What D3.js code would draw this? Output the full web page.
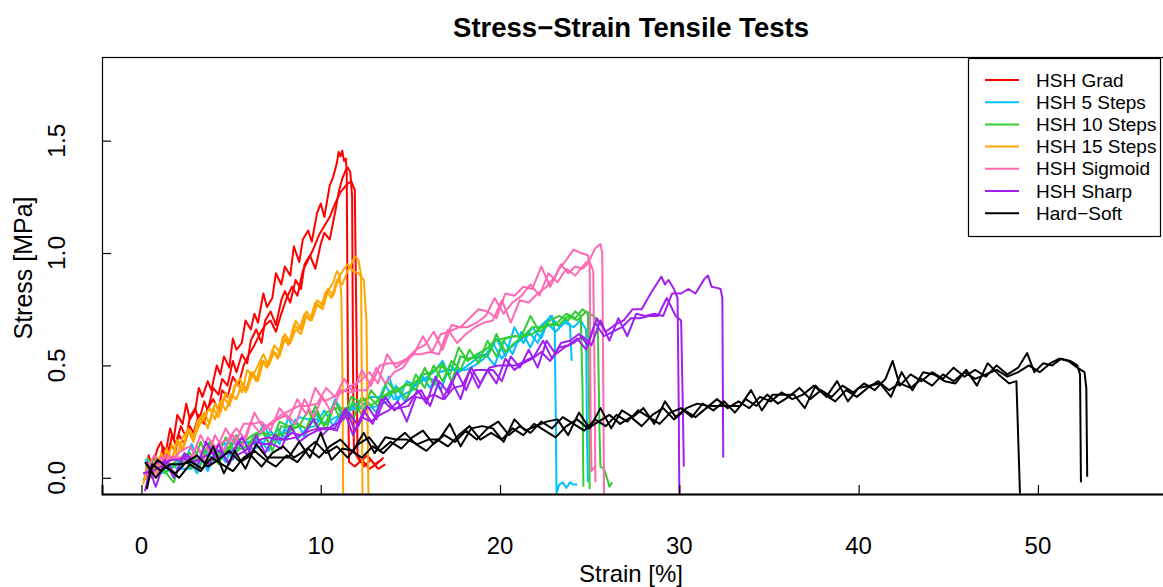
<!DOCTYPE html>
<html>
<head>
<meta charset="utf-8">
<script src="https://cdn.jsdelivr.net/npm/d3@7"></script>
<style>
  body { margin: 0; background: #fff; }
  svg { font-family: "Liberation Sans", Arial, Helvetica, sans-serif; }
</style>
</head>
<body>
<svg id="chart" width="1163" height="587"></svg>
<script>
// ---- data: [strain %, stress MPa], three specimens per material ----
const seriesNames = ["HSH Grad", "HSH 5 Steps", "HSH 10 Steps", "HSH 15 Steps", "HSH Sigmoid", "HSH Sharp", "Hard\u2212Soft"];
const seriesColors = ["#FF0000", "#00BFFF", "#32CD32", "#FFA500", "#FF69B4", "#A020F0", "#000000"];
const xTicks = [0, 10, 20, 30, 40, 50];
const yTicks = [0, 0.5, 1.0, 1.5];

const hshGrad = [
  [[0.2,0.00],[0.4,0.10],[0.6,0.05],[0.9,0.13],[1.1,0.16],[1.3,0.09],[1.6,0.22],[1.8,0.17],[2.0,0.28],[2.3,0.24],[2.5,0.33],[2.7,0.26],[3.0,0.30],[3.2,0.40],[3.4,0.36],[3.7,0.43],[3.9,0.39],[4.2,0.50],[4.4,0.46],[4.6,0.54],[4.9,0.49],[5.1,0.62],[5.3,0.57],[5.6,0.60],[5.8,0.70],[6.1,0.66],[6.3,0.73],[6.5,0.69],[6.8,0.82],[7.0,0.76],[7.3,0.80],[7.5,0.91],[7.8,0.86],[8.0,0.94],[8.3,0.90],[8.5,1.03],[8.8,0.96],[9.0,1.06],[9.3,1.10],[9.5,1.05],[9.8,1.18],[10.0,1.22],[10.2,1.16],[10.5,1.30],[10.7,1.34],[10.9,1.40],[11.0,1.45],[11.1,1.43],[11.2,1.455],[11.3,1.41],[11.4,1.42],[11.45,1.36],[11.52,0.40],[11.58,0.07],[11.9,0.05],[12.3,0.08],[12.7,0.04],[13.1,0.06],[13.5,0.09]],
  [[0.3,0.04],[0.5,0.01],[0.7,0.09],[1.0,0.06],[1.2,0.14],[1.5,0.10],[1.7,0.19],[1.9,0.15],[2.2,0.23],[2.5,0.18],[2.7,0.27],[3.0,0.31],[3.2,0.25],[3.5,0.34],[3.7,0.30],[4.0,0.40],[4.3,0.37],[4.5,0.44],[4.8,0.41],[5.1,0.52],[5.3,0.47],[5.6,0.55],[5.9,0.51],[6.1,0.61],[6.4,0.66],[6.7,0.60],[6.9,0.70],[7.2,0.74],[7.5,0.68],[7.8,0.79],[8.0,0.83],[8.3,0.78],[8.6,0.88],[8.9,0.84],[9.1,0.95],[9.4,0.99],[9.7,0.93],[10.0,1.04],[10.2,1.09],[10.5,1.06],[10.8,1.18],[11.0,1.27],[11.2,1.33],[11.4,1.37],[11.5,1.38],[11.65,1.36],[11.75,1.25],[11.8,0.50],[11.85,0.12],[12.2,0.07],[12.6,0.10],[13.0,0.06],[13.4,0.08]],
  [[0.3,0.02],[0.5,0.07],[0.8,0.03],[1.1,0.10],[1.3,0.07],[1.6,0.15],[1.9,0.12],[2.1,0.19],[2.4,0.15],[2.7,0.23],[2.9,0.20],[3.2,0.28],[3.5,0.24],[3.7,0.31],[4.0,0.35],[4.3,0.30],[4.5,0.39],[4.8,0.36],[5.1,0.45],[5.4,0.41],[5.7,0.50],[6.0,0.55],[6.3,0.59],[6.6,0.64],[6.9,0.68],[7.2,0.70],[7.5,0.65],[7.8,0.73],[8.1,0.80],[8.4,0.85],[8.7,0.81],[9.0,0.92],[9.3,0.97],[9.6,1.02],[9.9,1.08],[10.2,1.12],[10.5,1.16],[10.8,1.22],[11.1,1.27],[11.4,1.30],[11.7,1.32],[11.9,1.28],[12.0,0.60],[12.05,0.10],[12.4,0.05],[12.8,0.08],[13.2,0.04],[13.6,0.06]]
];

const hsh5Steps = [
  [[0.2,0.08],[0.7,0.06],[1.2,0.06],[1.7,0.05],[2.2,0.04],[2.7,0.04],[3.2,0.13],[3.7,0.03],[4.2,0.13],[4.7,0.07],[5.2,0.17],[5.7,0.13],[6.2,0.13],[6.7,0.14],[7.2,0.21],[7.7,0.15],[8.2,0.27],[8.7,0.17],[9.2,0.22],[9.7,0.23],[10.2,0.30],[10.7,0.23],[11.2,0.30],[11.7,0.31],[12.2,0.31],[12.7,0.31],[13.2,0.32],[13.7,0.34],[14.2,0.41],[14.7,0.34],[15.2,0.41],[15.7,0.44],[16.2,0.44],[16.7,0.39],[17.2,0.50],[17.7,0.47],[18.2,0.50],[18.7,0.53],[19.2,0.55],[19.7,0.50],[20.2,0.61],[20.7,0.55],[21.2,0.65],[21.7,0.58],[22.2,0.67],[22.6,0.70],[22.9,0.72],[23.05,0.65],[23.12,0.20],[23.15,-0.07],[23.3,-0.03],[23.5,-0.02],[23.7,-0.045],[23.9,-0.02],[24.1,-0.03],[24.3,-0.03]],
  [[0.3,0.04],[0.8,0.05],[1.3,0.07],[1.8,0.09],[2.3,0.05],[2.8,0.15],[3.3,0.06],[3.8,0.15],[4.3,0.07],[4.8,0.16],[5.3,0.15],[5.8,0.16],[6.3,0.15],[6.8,0.24],[7.3,0.16],[7.8,0.20],[8.3,0.22],[8.8,0.27],[9.3,0.26],[9.8,0.26],[10.3,0.24],[10.8,0.35],[11.3,0.28],[11.8,0.32],[12.3,0.34],[12.8,0.36],[13.3,0.36],[13.8,0.45],[14.3,0.34],[14.8,0.43],[15.3,0.41],[15.8,0.44],[16.3,0.47],[16.8,0.52],[17.3,0.43],[17.8,0.54],[18.3,0.53],[18.8,0.55],[19.3,0.54],[19.8,0.62],[20.3,0.54],[20.8,0.67],[21.3,0.60],[21.8,0.67],[22.3,0.62],[22.8,0.72],[23.3,0.67],[23.7,0.70],[23.9,0.68],[24.0,0.52]],
  [[0.1,-0.01],[0.6,0.08],[1.1,0.02],[1.6,0.04],[2.1,0.07],[2.6,0.09],[3.1,0.02],[3.6,0.12],[4.1,0.07],[4.6,0.16],[5.1,0.08],[5.6,0.16],[6.1,0.16],[6.6,0.17],[7.1,0.12],[7.6,0.22],[8.1,0.17],[8.6,0.26],[9.1,0.18],[9.6,0.30],[10.1,0.24],[10.6,0.26],[11.1,0.28],[11.6,0.30],[12.1,0.31],[12.6,0.34],[13.1,0.29],[13.6,0.41],[14.1,0.35],[14.6,0.37],[15.1,0.39],[15.6,0.46],[16.1,0.40],[16.6,0.47],[17.1,0.48],[17.6,0.48],[18.1,0.48],[18.6,0.50],[19.1,0.53],[19.6,0.60],[20.1,0.53],[20.6,0.58],[21.1,0.61],[21.6,0.65],[22.1,0.60],[22.6,0.69],[23.1,0.65],[23.6,0.69],[24.1,0.67],[24.5,0.70],[24.8,0.66],[24.85,0.20],[24.9,-0.02]]
];

const hsh10Steps = [
  [[0.3,0.09],[0.8,0.04],[1.3,0.03],[1.8,-0.02],[2.3,0.10],[2.8,0.04],[3.3,0.16],[3.8,0.06],[4.3,0.11],[4.8,0.12],[5.3,0.19],[5.8,0.12],[6.3,0.19],[6.8,0.20],[7.3,0.19],[7.8,0.19],[8.3,0.21],[8.8,0.23],[9.3,0.30],[9.8,0.22],[10.3,0.29],[10.8,0.31],[11.3,0.31],[11.8,0.26],[12.3,0.36],[12.8,0.32],[13.3,0.35],[13.8,0.38],[14.3,0.40],[14.8,0.35],[15.3,0.46],[15.8,0.40],[16.3,0.50],[16.8,0.43],[17.3,0.52],[17.8,0.48],[18.3,0.57],[18.8,0.51],[19.3,0.61],[19.8,0.54],[20.3,0.62],[20.8,0.63],[21.3,0.63],[21.8,0.64],[22.3,0.67],[22.8,0.70],[23.3,0.72],[23.8,0.70],[24.2,0.74],[24.5,0.72],[24.6,0.40],[24.65,-0.04]],
  [[0.2,0.05],[0.7,0.06],[1.2,0.06],[1.7,0.06],[2.2,0.09],[2.7,0.11],[3.2,0.04],[3.7,0.14],[4.2,0.09],[4.7,0.18],[5.2,0.12],[5.7,0.16],[6.2,0.19],[6.7,0.21],[7.2,0.14],[7.7,0.25],[8.2,0.23],[8.7,0.24],[9.2,0.22],[9.7,0.32],[10.2,0.23],[10.7,0.32],[11.2,0.25],[11.7,0.36],[12.2,0.34],[12.7,0.36],[13.2,0.32],[13.7,0.43],[14.2,0.38],[14.7,0.41],[15.2,0.42],[15.7,0.46],[16.2,0.47],[16.7,0.50],[17.2,0.46],[17.7,0.58],[18.2,0.52],[18.7,0.55],[19.2,0.57],[19.7,0.61],[20.2,0.62],[20.7,0.63],[21.2,0.63],[21.7,0.72],[22.2,0.65],[22.7,0.68],[23.2,0.69],[23.7,0.73],[24.2,0.71],[24.6,0.75],[24.9,0.73],[24.97,0.30],[25.0,-0.05]],
  [[0.3,-0.01],[0.8,0.09],[1.3,0.02],[1.8,0.05],[2.3,0.07],[2.8,0.08],[3.3,0.08],[3.8,0.16],[4.3,0.06],[4.8,0.14],[5.3,0.12],[5.8,0.14],[6.3,0.17],[6.8,0.21],[7.3,0.12],[7.8,0.23],[8.3,0.22],[8.8,0.23],[9.3,0.22],[9.8,0.29],[10.3,0.21],[10.8,0.34],[11.3,0.26],[11.8,0.34],[12.3,0.28],[12.8,0.39],[13.3,0.34],[13.8,0.37],[14.3,0.39],[14.8,0.42],[15.3,0.39],[15.8,0.49],[16.3,0.41],[16.8,0.51],[17.3,0.43],[17.8,0.54],[18.3,0.53],[18.8,0.54],[19.3,0.54],[19.8,0.64],[20.3,0.56],[20.8,0.60],[21.3,0.63],[21.8,0.67],[22.3,0.67],[22.8,0.68],[23.3,0.68],[23.8,0.72],[24.3,0.70],[24.8,0.74],[25.2,0.72],[25.45,0.70],[25.55,0.20],[25.6,0.05],[25.8,0.04],[26.0,-0.01],[26.1,-0.04],[26.25,-0.02]]
];

const hsh15Steps = [
  [[0.1,-0.03],[0.3,0.05],[0.6,0.01],[0.9,0.09],[1.2,0.06],[1.4,0.13],[1.7,0.08],[2.0,0.17],[2.3,0.13],[2.6,0.22],[2.9,0.18],[3.1,0.25],[3.4,0.28],[3.7,0.22],[4.0,0.31],[4.3,0.27],[4.6,0.36],[4.9,0.32],[5.2,0.41],[5.5,0.44],[5.8,0.38],[6.1,0.47],[6.4,0.43],[6.7,0.52],[7.0,0.49],[7.3,0.57],[7.6,0.53],[7.9,0.63],[8.2,0.59],[8.5,0.68],[8.8,0.66],[9.1,0.73],[9.4,0.70],[9.7,0.78],[10.0,0.76],[10.3,0.83],[10.6,0.80],[10.9,0.88],[11.2,0.86],[11.5,0.92],[11.7,0.95],[11.9,0.985],[12.1,0.97],[12.25,0.90],[12.3,0.30],[12.33,-0.07]],
  [[0.2,0.01],[0.5,0.07],[0.8,0.02],[1.1,0.11],[1.4,0.06],[1.7,0.15],[2.0,0.10],[2.3,0.18],[2.6,0.21],[2.9,0.16],[3.2,0.25],[3.5,0.29],[3.8,0.24],[4.1,0.33],[4.4,0.29],[4.7,0.38],[5.0,0.34],[5.3,0.43],[5.6,0.38],[5.9,0.48],[6.2,0.45],[6.5,0.50],[6.8,0.55],[7.1,0.50],[7.4,0.59],[7.7,0.56],[8.0,0.64],[8.3,0.60],[8.6,0.70],[8.9,0.66],[9.2,0.74],[9.5,0.71],[9.8,0.79],[10.1,0.77],[10.4,0.84],[10.7,0.81],[11.0,0.89],[11.3,0.93],[11.5,0.95],[11.8,0.92],[12.1,0.91],[12.4,0.88],[12.55,0.70],[12.62,0.20],[12.66,-0.07]],
  [[0.2,-0.01],[0.5,0.04],[0.8,0.08],[1.1,0.04],[1.4,0.12],[1.7,0.08],[2.0,0.16],[2.3,0.12],[2.6,0.21],[2.9,0.17],[3.2,0.23],[3.5,0.27],[3.8,0.31],[4.1,0.26],[4.4,0.34],[4.7,0.30],[5.0,0.37],[5.3,0.35],[5.6,0.42],[5.9,0.39],[6.2,0.47],[6.5,0.43],[6.8,0.52],[7.1,0.50],[7.4,0.56],[7.7,0.54],[8.0,0.62],[8.3,0.60],[8.6,0.66],[8.9,0.64],[9.2,0.72],[9.5,0.70],[9.8,0.77],[10.1,0.75],[10.4,0.83],[10.7,0.87],[10.9,0.92],[11.05,0.90],[11.15,0.81],[11.22,0.40],[11.25,-0.07]]
];

const hshSigmoid = [
  [[0.2,0.01],[0.7,0.10],[1.2,0.05],[1.7,0.08],[2.2,0.12],[2.7,0.14],[3.2,0.08],[3.7,0.18],[4.2,0.13],[4.7,0.22],[5.2,0.15],[5.7,0.24],[6.2,0.24],[6.7,0.25],[7.2,0.21],[7.7,0.31],[8.2,0.26],[8.7,0.35],[9.2,0.28],[9.7,0.40],[10.2,0.34],[10.7,0.36],[11.2,0.38],[11.7,0.41],[12.2,0.43],[12.7,0.47],[13.2,0.42],[13.7,0.55],[14.2,0.49],[14.7,0.52],[15.2,0.55],[15.7,0.63],[16.2,0.56],[16.7,0.64],[17.2,0.65],[17.7,0.67],[18.2,0.67],[18.7,0.69],[19.2,0.72],[19.7,0.80],[20.2,0.73],[20.7,0.78],[21.2,0.81],[21.7,0.86],[22.2,0.81],[22.7,0.91],[23.2,0.87],[23.7,0.93],[24.2,0.90],[24.7,0.95],[25.0,0.97],[25.3,1.02],[25.6,1.04],[25.7,1.00],[25.75,0.50],[25.8,-0.07]],
  [[0.3,0.06],[0.8,0.00],[1.3,0.10],[1.8,0.09],[2.3,0.09],[2.8,0.09],[3.3,0.19],[3.8,0.11],[4.3,0.15],[4.8,0.17],[5.3,0.22],[5.8,0.17],[6.3,0.29],[6.8,0.22],[7.3,0.25],[7.8,0.28],[8.3,0.30],[8.8,0.32],[9.3,0.32],[9.8,0.33],[10.3,0.40],[10.8,0.36],[11.3,0.44],[11.8,0.38],[12.3,0.48],[12.8,0.41],[13.3,0.50],[13.8,0.51],[14.3,0.51],[14.8,0.53],[15.3,0.57],[15.8,0.59],[16.3,0.65],[16.8,0.57],[17.3,0.68],[17.8,0.67],[18.3,0.71],[18.8,0.75],[19.3,0.74],[19.8,0.71],[20.3,0.82],[20.8,0.81],[21.3,0.85],[21.8,0.84],[22.3,0.94],[22.8,0.85],[23.3,0.93],[23.7,0.97],[24.1,1.015],[24.5,1.00],[24.9,0.99],[25.0,0.95],[25.05,0.30],[25.1,0.03],[25.3,0.05]],
  [[0.1,0.02],[0.6,0.00],[1.1,0.09],[1.6,0.08],[2.1,0.09],[2.6,0.07],[3.1,0.14],[3.6,0.07],[4.1,0.19],[4.6,0.12],[5.1,0.19],[5.6,0.14],[6.1,0.25],[6.6,0.20],[7.1,0.23],[7.6,0.26],[8.1,0.28],[8.6,0.24],[9.1,0.35],[9.6,0.27],[10.1,0.36],[10.6,0.29],[11.1,0.39],[11.6,0.38],[12.1,0.39],[12.6,0.39],[13.1,0.49],[13.6,0.42],[14.1,0.47],[14.6,0.49],[15.1,0.55],[15.6,0.55],[16.1,0.56],[16.6,0.55],[17.1,0.66],[17.6,0.60],[18.1,0.64],[18.6,0.67],[19.1,0.69],[19.6,0.70],[20.1,0.79],[20.6,0.69],[21.1,0.79],[21.6,0.78],[22.1,0.82],[22.6,0.85],[23.1,0.90],[23.4,0.95],[23.8,0.91],[24.2,0.94],[24.6,0.93],[25.0,0.96],[25.2,0.92],[25.28,0.40],[25.32,-0.02]]
];

const hshSharp = [
  [[0.2,-0.06],[0.5,0.05],[0.9,0.07],[1.4,0.07],[1.9,0.01],[2.4,0.11],[2.9,0.07],[3.4,0.09],[3.9,0.11],[4.4,0.12],[4.9,0.06],[5.4,0.16],[5.9,0.10],[6.4,0.19],[6.9,0.11],[7.4,0.19],[7.9,0.17],[8.4,0.20],[8.9,0.19],[9.4,0.21],[9.9,0.22],[10.4,0.22],[10.9,0.21],[11.4,0.31],[11.9,0.21],[12.4,0.30],[12.9,0.24],[13.4,0.35],[13.9,0.31],[14.4,0.31],[14.9,0.32],[15.4,0.39],[15.9,0.33],[16.4,0.45],[16.9,0.35],[17.4,0.40],[17.9,0.41],[18.4,0.49],[18.9,0.42],[19.4,0.49],[19.9,0.50],[20.4,0.50],[20.9,0.50],[21.4,0.52],[21.9,0.54],[22.4,0.61],[22.9,0.53],[23.4,0.60],[23.9,0.61],[24.4,0.64],[24.9,0.59],[25.4,0.71],[25.9,0.65],[26.4,0.68],[26.9,0.70],[27.4,0.75],[27.9,0.75],[28.4,0.82],[28.8,0.87],[29.0,0.895],[29.2,0.86],[29.4,0.88],[29.7,0.84],[29.9,0.80],[29.97,0.30],[30.0,-0.07]],
  [[0.1,0.02],[0.6,0.03],[1.1,0.05],[1.6,0.08],[2.1,0.08],[2.6,0.10],[3.1,0.05],[3.6,0.16],[4.1,0.09],[4.6,0.10],[5.1,0.12],[5.6,0.18],[6.1,0.11],[6.6,0.17],[7.1,0.18],[7.6,0.17],[8.1,0.17],[8.6,0.18],[9.1,0.20],[9.6,0.26],[10.1,0.19],[10.6,0.23],[11.1,0.25],[11.6,0.29],[12.1,0.23],[12.6,0.32],[13.1,0.26],[13.6,0.36],[14.1,0.30],[14.6,0.33],[15.1,0.36],[15.6,0.39],[16.1,0.32],[16.6,0.43],[17.1,0.38],[17.6,0.47],[18.1,0.39],[18.6,0.48],[19.1,0.48],[19.6,0.48],[20.1,0.43],[20.6,0.54],[21.1,0.49],[21.6,0.57],[22.1,0.49],[22.6,0.61],[23.1,0.55],[23.6,0.58],[24.1,0.60],[24.6,0.63],[25.1,0.59],[25.6,0.70],[26.1,0.61],[26.6,0.71],[27.1,0.63],[27.6,0.73],[28.1,0.72],[28.6,0.73],[29.1,0.72],[29.6,0.82],[30.1,0.82],[30.5,0.84],[30.9,0.82],[31.4,0.885],[31.6,0.90],[31.8,0.85],[32.1,0.845],[32.3,0.84],[32.4,0.80],[32.45,0.09]],
  [[0.3,0.07],[0.8,-0.04],[1.3,0.08],[1.8,0.00],[2.3,0.09],[2.8,0.07],[3.3,0.08],[3.8,0.06],[4.3,0.15],[4.8,0.07],[5.3,0.10],[5.8,0.12],[6.3,0.16],[6.8,0.15],[7.3,0.15],[7.8,0.13],[8.3,0.23],[8.8,0.16],[9.3,0.19],[9.8,0.21],[10.3,0.22],[10.8,0.22],[11.3,0.30],[11.8,0.19],[12.3,0.27],[12.8,0.25],[13.3,0.28],[13.8,0.30],[14.3,0.34],[14.8,0.25],[15.3,0.36],[15.8,0.35],[16.3,0.37],[16.8,0.35],[17.3,0.43],[17.8,0.35],[18.3,0.48],[18.8,0.40],[19.3,0.48],[19.8,0.42],[20.3,0.53],[20.8,0.48],[21.3,0.51],[21.8,0.53],[22.3,0.56],[22.8,0.52],[23.3,0.58],[23.8,0.59],[24.3,0.62],[24.8,0.57],[25.3,0.69],[25.8,0.63],[26.3,0.65],[26.8,0.67],[27.3,0.71],[27.8,0.71],[28.3,0.72],[28.8,0.72],[29.3,0.80],[29.8,0.72],[30.1,0.70],[30.2,0.30],[30.25,0.05]]
];

const hardSoft = [
  [[0.3,-0.05],[0.6,0.06],[1.1,0.03],[1.6,0.06],[2.2,0.06],[2.8,0.07],[3.4,0.04],[4.0,0.14],[4.6,0.02],[5.2,0.12],[5.8,0.04],[6.4,0.15],[7.0,0.09],[7.6,0.09],[8.2,0.09],[8.8,0.16],[9.4,0.09],[10.0,0.20],[10.6,0.08],[11.2,0.13],[11.8,0.12],[12.4,0.20],[13.0,0.11],[13.6,0.18],[14.2,0.17],[14.8,0.17],[15.4,0.15],[16.0,0.17],[16.6,0.17],[17.2,0.24],[17.8,0.14],[18.4,0.22],[19.0,0.23],[19.6,0.22],[20.2,0.16],[20.8,0.26],[21.4,0.21],[22.0,0.23],[22.6,0.25],[23.2,0.26],[23.8,0.19],[24.4,0.29],[25.0,0.22],[25.6,0.31],[26.2,0.22],[26.8,0.30],[27.4,0.27],[28.0,0.31],[28.6,0.24],[29.2,0.34],[29.8,0.27],[30.4,0.31],[31.0,0.33],[31.6,0.32],[32.2,0.32],[32.8,0.32],[33.4,0.32],[34.0,0.39],[34.6,0.30],[35.2,0.37],[35.8,0.37],[36.4,0.37],[37.0,0.31],[37.6,0.41],[38.2,0.36],[38.8,0.43],[39.4,0.34],[40.0,0.40],[40.6,0.41],[41.2,0.42],[41.8,0.36],[42.4,0.47],[43.0,0.39],[43.6,0.47],[44.2,0.46],[44.8,0.43],[45.4,0.42],[46.0,0.48],[46.6,0.41],[47.2,0.51],[47.8,0.46],[48.4,0.42],[48.8,0.43],[49.0,-0.07]],
  [[0.2,0.07],[0.8,0.00],[1.3,0.05],[1.9,0.02],[2.5,0.07],[3.1,0.10],[3.7,0.05],[4.3,0.08],[4.9,0.12],[5.5,0.07],[6.1,0.10],[6.7,0.05],[7.3,0.11],[7.9,0.14],[8.5,0.09],[9.1,0.12],[9.7,0.16],[10.3,0.11],[10.9,0.14],[11.5,0.09],[12.1,0.15],[12.7,0.18],[13.3,0.12],[13.9,0.16],[14.5,0.13],[15.1,0.18],[15.7,0.21],[16.3,0.15],[16.9,0.19],[17.5,0.16],[18.1,0.21],[18.7,0.17],[19.3,0.22],[19.9,0.25],[20.5,0.19],[21.1,0.23],[21.7,0.20],[22.3,0.25],[22.9,0.22],[23.5,0.27],[24.1,0.24],[24.7,0.21],[25.3,0.26],[25.9,0.23],[26.5,0.28],[27.1,0.25],[27.7,0.30],[28.3,0.27],[28.9,0.24],[29.5,0.29],[30.1,0.31],[30.7,0.27],[31.3,0.33],[31.9,0.30],[32.5,0.34],[33.1,0.29],[33.7,0.35],[34.3,0.32],[34.9,0.37],[35.5,0.33],[36.1,0.36],[36.7,0.40],[37.3,0.35],[37.9,0.39],[38.5,0.36],[39.1,0.41],[39.7,0.38],[40.3,0.42],[40.9,0.39],[41.5,0.44],[41.9,0.52],[42.3,0.41],[42.9,0.46],[43.5,0.43],[44.1,0.47],[44.7,0.44],[45.3,0.49],[45.9,0.45],[46.5,0.48],[47.1,0.45],[47.7,0.50],[48.3,0.46],[48.9,0.49],[49.4,0.555],[49.8,0.47],[50.3,0.51],[50.8,0.50],[51.3,0.53],[51.8,0.52],[52.2,0.50],[52.35,0.46],[52.4,-0.02]],
  [[0.4,0.02],[0.9,0.08],[1.5,0.04],[2.1,0.00],[2.7,0.06],[3.3,0.03],[3.9,0.09],[4.5,0.06],[5.1,0.03],[5.7,0.09],[6.3,0.12],[6.9,0.08],[7.5,0.05],[8.1,0.10],[8.7,0.07],[9.3,0.13],[9.9,0.09],[10.5,0.14],[11.1,0.17],[11.7,0.12],[12.3,0.09],[12.9,0.14],[13.5,0.11],[14.1,0.16],[14.7,0.20],[15.3,0.15],[15.9,0.12],[16.5,0.17],[17.1,0.14],[17.7,0.19],[18.3,0.23],[18.9,0.17],[19.5,0.20],[20.1,0.17],[20.7,0.22],[21.3,0.19],[21.9,0.24],[22.5,0.21],[23.1,0.18],[23.7,0.23],[24.3,0.26],[24.9,0.22],[25.5,0.25],[26.1,0.28],[26.7,0.24],[27.3,0.27],[27.9,0.23],[28.5,0.28],[29.1,0.31],[29.7,0.26],[30.3,0.30],[30.9,0.27],[31.5,0.31],[32.1,0.35],[32.7,0.31],[33.3,0.34],[33.9,0.31],[34.5,0.36],[35.1,0.34],[35.7,0.38],[36.3,0.35],[36.9,0.37],[37.5,0.41],[38.1,0.37],[38.7,0.34],[39.3,0.39],[39.9,0.36],[40.5,0.40],[41.1,0.43],[41.7,0.39],[42.3,0.42],[42.9,0.40],[43.5,0.44],[44.1,0.41],[44.7,0.46],[45.3,0.43],[45.9,0.47],[46.5,0.44],[47.1,0.46],[47.7,0.48],[48.3,0.45],[48.9,0.47],[49.5,0.50],[50.1,0.47],[50.7,0.51],[51.2,0.53],[51.7,0.52],[52.2,0.49],[52.6,0.47],[52.7,0.40],[52.75,0.005]]
];

const allSeries = [hshGrad, hsh5Steps, hsh10Steps, hsh15Steps, hshSigmoid, hshSharp, hardSoft];

// ---- layout ----
const svg = d3.select("#chart"),
    plot = { left: 102, right: 1167, top: 57, bottom: 494 };

const x = d3.scaleLinear().domain([-2.2, 57.2]).range([plot.left, plot.right]);
const y = d3.scaleLinear().domain([-0.072, 1.872]).range([plot.bottom, plot.top]);

const line = d3.line()
    .x(d => x(d[0]))
    .y(d => y(d[1]));

svg.append("defs").append("clipPath").attr("id", "clip")
  .append("rect")
    .attr("x", plot.left).attr("y", plot.top)
    .attr("width", plot.right - plot.left).attr("height", plot.bottom - plot.top);

// curves, drawn in legend order so Hard-Soft sits on top
const curves = svg.append("g").attr("clip-path", "url(#clip)");
allSeries.forEach((group, i) => {
  group.forEach(spec => {
    curves.append("path")
      .datum(spec)
      .attr("d", line)
      .attr("fill", "none")
      .attr("stroke", seriesColors[i])
      .attr("stroke-width", 2)
      .attr("stroke-linejoin", "round");
  });
});

// frame
svg.append("rect")
    .attr("x", plot.left + 0.5).attr("y", plot.top + 0.5)
    .attr("width", plot.right - plot.left).attr("height", plot.bottom - plot.top)
    .attr("fill", "none").attr("stroke", "#000").attr("stroke-width", 1.2);

// x axis: ticks point up into the plot, labels well below
const xAxis = svg.append("g")
    .attr("transform", `translate(0,${plot.bottom})`)
    .call(d3.axisTop(x).tickValues(xTicks).tickSize(9).tickFormat(""));
xAxis.select(".domain").attr("stroke-width", 2);
xAxis.selectAll(".tick line").attr("stroke-width", 1.2);

svg.append("g").selectAll("text")
  .data(xTicks)
  .join("text")
    .attr("x", d => x(d))
    .attr("y", 554)
    .attr("text-anchor", "middle")
    .attr("font-size", 24)
    .text(d => d);

// y axis: ticks point right, labels rotated
const yAxis = svg.append("g")
    .attr("transform", `translate(${plot.left},0)`)
    .call(d3.axisRight(y).tickValues(yTicks).tickSize(9).tickFormat(""));
yAxis.select(".domain").remove();
yAxis.selectAll(".tick line").attr("stroke-width", 1.2);

svg.append("g").selectAll("text")
  .data(yTicks)
  .join("text")
    .attr("transform", d => `translate(65,${y(d)}) rotate(-90)`)
    .attr("text-anchor", "middle")
    .attr("font-size", 24.5)
    .text(d => d3.format(".1f")(d));

// titles
svg.append("text")
    .attr("x", 631).attr("y", 37)
    .attr("text-anchor", "middle")
    .attr("font-size", 27.5)
    .attr("font-weight", "bold")
    .text("Stress\u2212Strain Tensile Tests");

svg.append("text")
    .attr("x", 631).attr("y", 582)
    .attr("text-anchor", "middle")
    .attr("font-size", 24)
    .text("Strain [%]");

svg.append("text")
    .attr("transform", "translate(32,268) rotate(-90)")
    .attr("text-anchor", "middle")
    .attr("font-size", 25)
    .text("Stress [MPa]");

// legend
const legend = svg.append("g");
legend.append("rect")
    .attr("x", 968.5).attr("y", 58.5)
    .attr("width", 192).attr("height", 178)
    .attr("fill", "#fff").attr("stroke", "#000").attr("stroke-width", 1.2);

const rows = legend.selectAll("g.row")
  .data(seriesNames)
  .join("g")
    .attr("class", "row")
    .attr("transform", (d, i) => `translate(0,${80 + i * 22.2})`);

rows.append("line")
    .attr("x1", 985).attr("x2", 1019)
    .attr("stroke", (d, i) => seriesColors[i])
    .attr("stroke-width", 2);

rows.append("text")
    .attr("x", 1036).attr("y", 6.5)
    .attr("font-size", 19)
    .text(d => d);
</script>
</body>
</html>
